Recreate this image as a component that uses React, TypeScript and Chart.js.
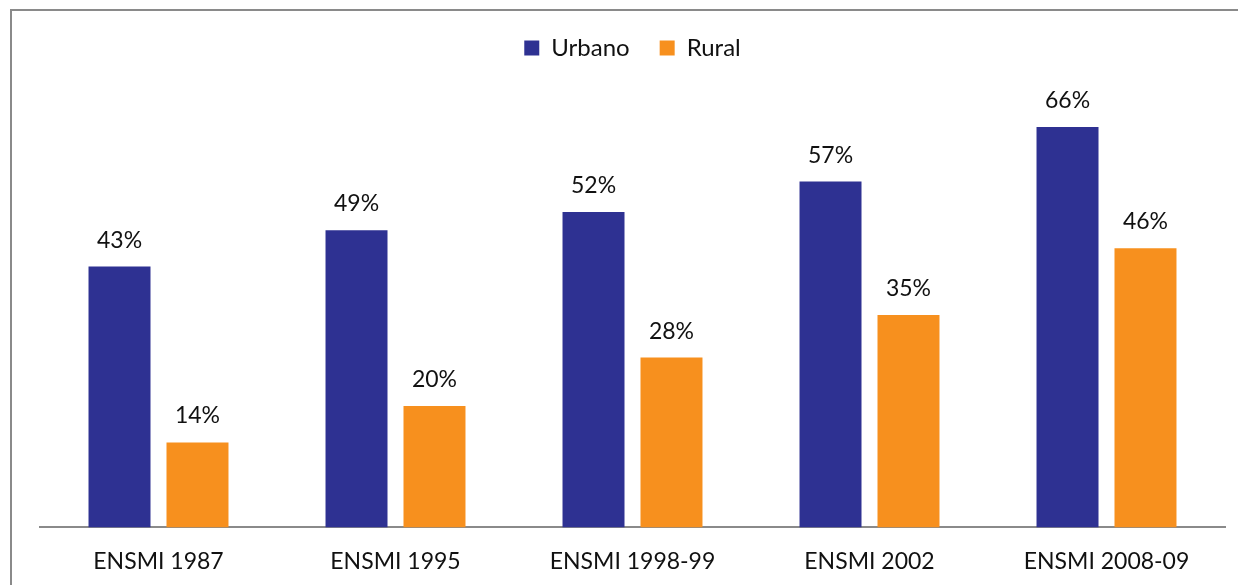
import React, { useEffect, useRef } from "react";
import { Chart, registerables } from "chart.js";

Chart.register(...registerables);

const categories = ["ENSMI 1987", "ENSMI 1995", "ENSMI 1998-99", "ENSMI 2002", "ENSMI 2008-09"];
const urbano = [43, 49, 52, 57, 66];
const rural = [14, 20, 28, 35, 46];
const seriesNames = ["Urbano", "Rural"];

const FONT = "Lato, 'Open Sans', sans-serif";

const valueLabels = {
  id: "valueLabels",
  afterDatasetsDraw(chart: any) {
    const ctx = chart.ctx;
    ctx.save();
    ctx.font = `23px ${FONT}`;
    ctx.fillStyle = "#111";
    ctx.textAlign = "center";
    ctx.textBaseline = "alphabetic";
    chart.data.datasets.forEach((ds: any, i: number) => {
      const meta = chart.getDatasetMeta(i);
      meta.data.forEach((el: any, j: number) => {
        ctx.fillText(ds.data[j] + "%", el.x, el.y - 19);
      });
    });
    ctx.restore();
  },
};

export default function App() {
  const ref = useRef<HTMLCanvasElement>(null);
  useEffect(() => {
    const chart = new Chart(ref.current!, {
      type: "bar",
      data: {
        labels: categories,
        datasets: [
          { label: seriesNames[0], data: urbano, backgroundColor: "#2E3192" },
          { label: seriesNames[1], data: rural, backgroundColor: "#F7901E" },
        ],
      },
      options: {
        animation: false,
        responsive: false,
        maintainAspectRatio: false,
        layout: { padding: { left: 40, right: 13, top: 6, bottom: -10 } },
        datasets: {
          bar: { categoryPercentage: 0.658, barPercentage: 0.795 },
        } as any,
        plugins: {
          legend: {
            display: true,
            position: "top",
            labels: {
              boxWidth: 15,
              boxHeight: 15,
              padding: 30,
              color: "#111",
              font: { family: FONT, size: 24 },
            },
          },
          tooltip: { enabled: false },
        },
        scales: {
          x: {
            grid: { display: false, drawTicks: false },
            border: { display: true, color: "#8a8a8a", width: 2 },
            ticks: { color: "#111", font: { family: FONT, size: 23 }, padding: 20 },
          },
          y: {
            display: false,
            min: 0,
            max: 75.4,
          },
        },
      },
      plugins: [valueLabels],
    });
    return () => chart.destroy();
  }, []);
  return (
    <div style={{ position: "absolute", left: 0, top: 0, width: 1238, height: 585, background: "#fff" }}>
      <canvas ref={ref} width={1238} height={585} style={{ position: "absolute", left: 0, top: 0 }} />
      <div
        style={{
          position: "absolute",
          left: 10,
          top: 9,
          width: 1228,
          height: 576,
          borderLeft: "2px solid #8a8a8a",
          borderTop: "2px solid #8a8a8a",
          boxSizing: "border-box",
          pointerEvents: "none",
        }}
      />
    </div>
  );
}
